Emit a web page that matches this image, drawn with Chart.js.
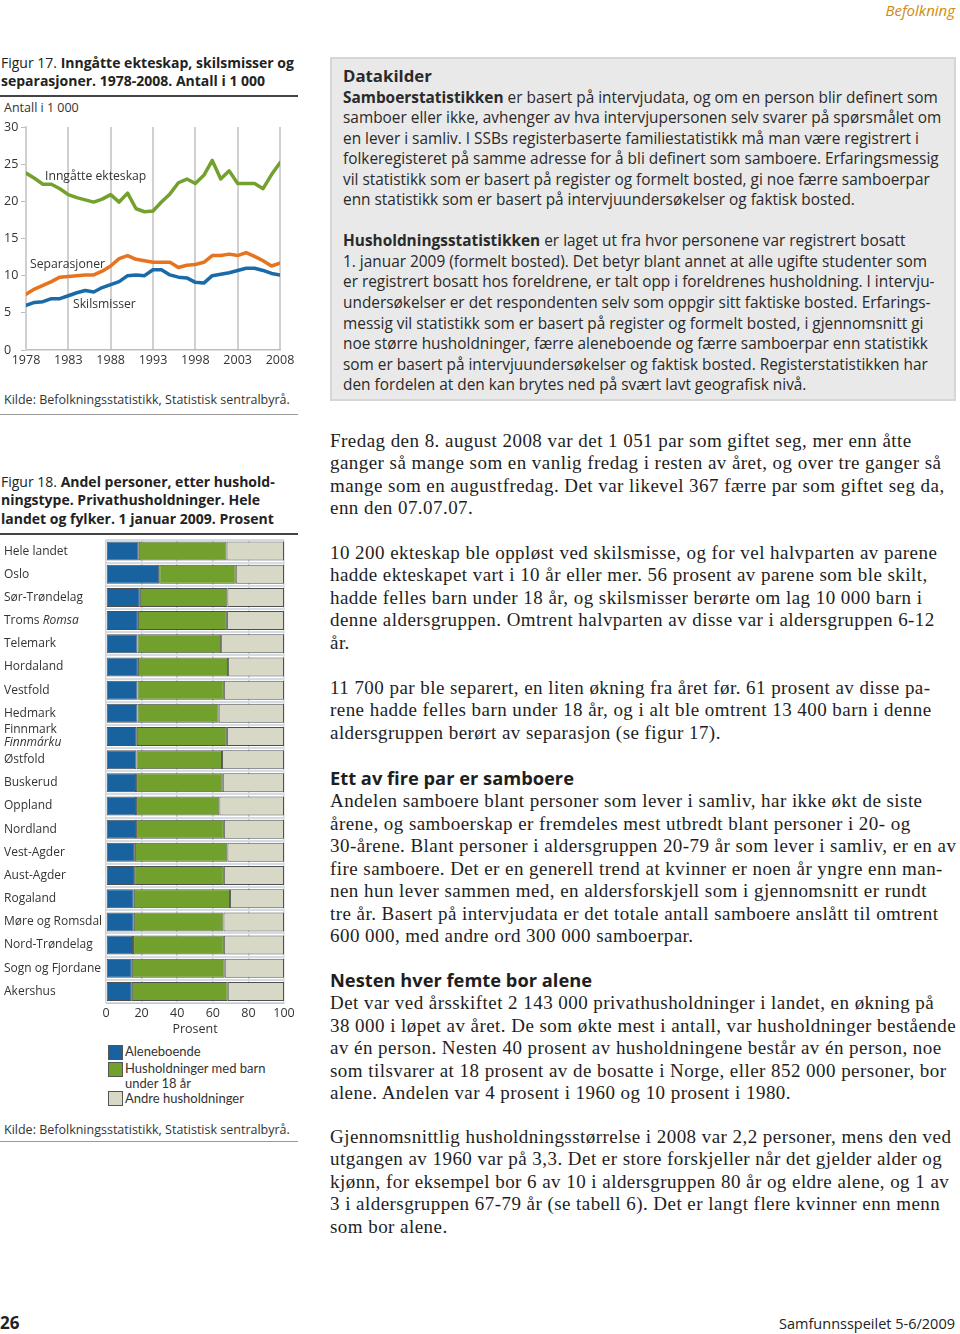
<!DOCTYPE html>
<html>
<head>
<meta charset="utf-8">
<script src="https://cdn.jsdelivr.net/npm/chart.js@4"></script>
<style>
  body { margin:0; width:960px; height:1334px; background:#fff; position:relative; overflow:hidden;
         font-family:"Open Sans", "Noto Sans", sans-serif; color:#222; }
  .abs { position:absolute; white-space:nowrap; }
  .rule { position:absolute; left:0; width:298px; background:#444; }
  .cap { font-size:14px; line-height:18.3px; color:#222; }
  .small { font-size:12.5px; color:#333; }
  .note { font-size:12.2px; color:#333; }
  .box { position:absolute; left:330px; top:57px; width:622px; height:340px; background:#e9e9e9;
         border:2px solid #d6d6d6; }
  .boxtext { position:absolute; left:11px; top:7px; font-size:15.4px; line-height:20.55px; color:#2a2a2a; white-space:nowrap; }
  .serif { font-family:"Liberation Serif", "DejaVu Serif", serif; font-size:19px; letter-spacing:0.45px; line-height:22.45px; color:#1e1e1e; }
  .head { font-family:"Open Sans", sans-serif; font-weight:700; font-size:18.3px; letter-spacing:0; }
  .legtxt { position:absolute; left:125px; font-family:Lato, "Open Sans", sans-serif; font-size:13px; color:#333; line-height:14.8px; white-space:nowrap; }
  .legbox { position:absolute; left:108px; width:13px; height:13px; border:1px solid #555; }
</style>
</head>
<body>

<div class="abs" style="right:5px; top:0px; font-size:15px; font-style:italic; color:#d08a10;">Befolkning</div>

<!-- Figur 17 -->
<div class="abs cap" style="left:1px; top:54px;">Figur 17. <b>Inngåtte ekteskap, skilsmisser og<br>separasjoner. 1978-2008. Antall i 1 000</b></div>
<div class="rule" style="top:95px; height:1.5px;"></div>
<div class="abs small" style="left:4px; top:99px;">Antall i 1 000</div>
<div style="position:absolute; left:0; top:115px; width:300px; height:257px;"><canvas id="lineChart"></canvas></div>
<div class="abs note" style="left:45px; top:167px;">Inngåtte ekteskap</div>
<div class="abs note" style="left:30px; top:255px;">Separasjoner</div>
<div class="abs note" style="left:73px; top:295px;">Skilsmisser</div>
<div class="abs small" style="left:4px; top:391px;">Kilde: Befolkningsstatistikk, Statistisk sentralbyrå.</div>
<div class="rule" style="top:414px; height:1px; background:#999;"></div>

<!-- Figur 18 -->
<div class="abs cap" style="left:1px; top:473px;">Figur 18. <b>Andel personer, etter hushold-<br>ningstype. Privathusholdninger. Hele<br>landet og fylker. 1 januar 2009. Prosent</b></div>
<div class="rule" style="top:533px; height:1.5px;"></div>
<div style="position:absolute; left:0; top:535px; width:300px; height:505px;"><canvas id="barChart"></canvas></div>
<div class="legbox" style="top:1045px; background:#17629f;"></div>
<div class="legtxt" style="top:1044px;">Aleneboende</div>
<div class="legbox" style="top:1062px; background:#71a02c;"></div>
<div class="legtxt" style="top:1061px;">Husholdninger med barn<br>under 18 år</div>
<div class="legbox" style="top:1091px; background:#d7d8c6;"></div>
<div class="legtxt" style="top:1091px;">Andre husholdninger</div>
<div class="abs small" style="left:4px; top:1121px;">Kilde: Befolkningsstatistikk, Statistisk sentralbyrå.</div>
<div class="rule" style="top:1141px; height:1px; background:#999;"></div>

<!-- Datakilder box -->
<div class="box"><div class="boxtext"><b style="font-size:16.8px;">Datakilder</b><br><b>Samboerstatistikken</b> er basert på intervjudata, og om en person blir definert som<br>samboer eller ikke, avhenger av hva intervjupersonen selv svarer på spørsmålet om<br>en lever i samliv. I SSBs registerbaserte familiestatistikk må man være registrert i<br>folkeregisteret på samme adresse for å bli definert som samboere. Erfaringsmessig<br>vil statistikk som er basert på register og formelt bosted, gi noe færre samboerpar<br>enn statistikk som er basert på intervjuundersøkelser og faktisk bosted.<br><br><b>Husholdningsstatistikken</b> er laget ut fra hvor personene var registrert bosatt<br>1. januar 2009 (formelt bosted). Det betyr blant annet at alle ugifte studenter som<br>er registrert bosatt hos foreldrene, er talt opp i foreldrenes husholdning. I intervju-<br>undersøkelser er det respondenten selv som oppgir sitt faktiske bosted. Erfarings-<br>messig vil statistikk som er basert på register og formelt bosted, i gjennomsnitt gi<br>noe større husholdninger, færre aleneboende og færre samboerpar enn statistikk<br>som er basert på intervjuundersøkelser og faktisk bosted. Registerstatistikken har<br>den fordelen at den kan brytes ned på svært lavt geografisk nivå.</div></div>

<!-- body text -->
<div class="abs serif" style="left:330px; top:430px;">Fredag den 8. august 2008 var det 1 051 par som giftet seg, mer enn åtte<br>ganger så mange som en vanlig fredag i resten av året, og over tre ganger så<br>mange som en augustfredag. Det var likevel 367 færre par som giftet seg da,<br>enn den 07.07.07.</div>
<div class="abs serif" style="left:330px; top:542px;">10 200 ekteskap ble oppløst ved skilsmisse, og for vel halvparten av parene<br>hadde ekteskapet vart i 10 år eller mer. 56 prosent av parene som ble skilt,<br>hadde felles barn under 18 år, og skilsmisser berørte om lag 10 000 barn i<br>denne aldersgruppen. Omtrent halvparten av disse var i aldersgruppen 6-12<br>år.</div>
<div class="abs serif" style="left:330px; top:677px;">11 700 par ble separert, en liten økning fra året før. 61 prosent av disse pa-<br>rene hadde felles barn under 18 år, og i alt ble omtrent 13 400 barn i denne<br>aldersgruppen berørt av separasjon (se figur 17).</div>
<div class="abs serif" style="left:330px; top:767px;"><span class="head">Ett av fire par er samboere</span><br>Andelen samboere blant personer som lever i samliv, har ikke økt de siste<br>årene, og samboerskap er fremdeles mest utbredt blant personer i 20- og<br>30-årene. Blant personer i aldersgruppen 20-79 år som lever i samliv, er en av<br>fire samboere. Det er en generell trend at kvinner er noen år yngre enn man-<br>nen hun lever sammen med, en aldersforskjell som i gjennomsnitt er rundt<br>tre år. Basert på intervjudata er det totale antall samboere anslått til omtrent<br>600 000, med andre ord 300 000 samboerpar.</div>
<div class="abs serif" style="left:330px; top:969px;"><span class="head">Nesten hver femte bor alene</span><br>Det var ved årsskiftet 2 143 000 privathusholdninger i landet, en økning på<br>38 000 i løpet av året. De som økte mest i antall, var husholdninger bestående<br>av én person. Nesten 40 prosent av husholdningene består av én person, noe<br>som tilsvarer at 18 prosent av de bosatte i Norge, eller 852 000 personer, bor<br>alene. Andelen var 4 prosent i 1960 og 10 prosent i 1980.</div>
<div class="abs serif" style="left:330px; top:1126px;">Gjennomsnittlig husholdningsstørrelse i 2008 var 2,2 personer, mens den ved<br>utgangen av 1960 var på 3,3. Det er store forskjeller når det gjelder alder og<br>kjønn, for eksempel bor 6 av 10 i aldersgruppen 80 år og eldre alene, og 1 av<br>3 i aldersgruppen 67-79 år (se tabell 6). Det er langt flere kvinner enn menn<br>som bor alene.</div>

<div class="abs" style="left:0px; top:1311px; font-size:17px; font-weight:700;">26</div>
<div class="abs" style="right:5px; top:1314px; font-size:14.5px; color:#222;">Samfunnsspeilet 5-6/2009</div>

<script>
// Figur 17 – antall i 1 000
var years = [1978,1979,1980,1981,1982,1983,1984,1985,1986,1987,1988,1989,1990,1991,1992,1993,
             1994,1995,1996,1997,1998,1999,2000,2001,2002,2003,2004,2005,2006,2007,2008];
var ekteskap = [23.8,23.1,22.3,22.3,21.7,20.9,20.5,20.2,19.9,20.3,20.9,19.9,21.1,19.0,18.6,18.7,
                19.9,21.0,22.5,23.0,22.4,23.5,25.5,23.0,24.1,22.4,22.4,22.4,21.7,23.6,25.2];
var separasjoner = [7.5,8.2,8.7,9.2,9.8,9.9,10.0,10.1,10.1,10.6,11.3,12.3,12.7,12.2,12.0,11.8,
                    11.8,11.8,11.1,11.4,11.5,11.8,12.7,12.7,12.9,12.7,13.1,12.6,12.0,11.3,11.7];
var skilsmisser = [6.0,6.4,6.5,6.9,6.9,7.3,7.7,8.0,7.8,8.4,8.8,9.2,10.0,10.1,10.0,10.8,
                   10.8,10.1,9.8,9.7,9.1,9.0,10.0,10.2,10.4,10.7,11.0,11.0,10.7,10.3,10.1];

// Figur 18 – prosent
var fylker = ["Hele landet","Oslo","Sør-Trøndelag","Troms Romsa","Telemark","Hordaland","Vestfold",
              "Hedmark","Finnmark Finnmárku","Østfold","Buskerud","Oppland","Nordland","Vest-Agder",
              "Aust-Agder","Rogaland","Møre og Romsdal","Nord-Trøndelag","Sogn og Fjordane","Akershus"];
var aleneboende = [18.4,29.9,19.0,17.9,17.7,17.9,17.7,17.7,17.3,17.1,16.9,16.9,16.9,16.2,15.8,15.6,15.6,15.2,14.5,14.5];
var medBarn = [49.3,43.0,49.2,50.0,47.0,50.7,48.5,45.6,50.6,48.1,48.7,46.8,49.3,52.0,50.4,54.1,50.4,51.0,52.2,53.9];
var andre = aleneboende.map((a,i)=>Math.round((100-a-medBarn[i])*10)/10);

var tickFont = {family:"'Open Sans', sans-serif", size:12.5};
Chart.defaults.color = "#333";
Chart.defaults.animation = false;

function pts(arr){ return arr.map((v,i)=>({x:years[i], y:v})); }

new Chart(document.getElementById('lineChart'), {
  type:'line',
  data:{ datasets:[
    {label:"Inngåtte ekteskap", data:pts(ekteskap), borderColor:"#74a12e", borderWidth:3.5},
    {label:"Separasjoner", data:pts(separasjoner), borderColor:"#e8731f", borderWidth:3.5},
    {label:"Skilsmisser", data:pts(skilsmisser), borderColor:"#1a6aa8", borderWidth:3.5}
  ]},
  options:{
    responsive:true, maintainAspectRatio:false,
    layout:{padding:{left:4, top:12, right:20, bottom:0}},
    elements:{point:{radius:0}, line:{tension:0, borderJoinStyle:'round', borderCapStyle:'round'}},
    plugins:{legend:{display:false}, tooltip:{enabled:false}},
    scales:{
      x:{type:'linear', min:1978, max:2008,
         ticks:{stepSize:5, font:tickFont, padding:3, maxRotation:0, callback:v=>String(v)},
         grid:{color:"#d0d0d0", lineWidth:2, drawTicks:false},
         border:{color:"#bdbdbd", width:1.5},
         afterFit:s=>{s.height=22;}},
      y:{min:0, max:30,
         ticks:{stepSize:5, font:tickFont, crossAlign:'far', padding:2},
         grid:{drawOnChartArea:false, drawTicks:true, tickLength:5, color:"#bdbdbd"},
         border:{color:"#d0d0d0", width:2},
         afterFit:s=>{s.width=22;}}
    }
  }
});

// region names with italic Sami names, drawn at the category scale positions
var labelPlugin = {
  id:'fylkeLabels',
  afterDraw(chart){
    var ctx = chart.ctx, y = chart.scales.y;
    ctx.save();
    ctx.fillStyle = "#333";
    ctx.textBaseline = "middle";
    ctx.textAlign = "left";
    var plain = "12px 'Open Sans', sans-serif", ital = "italic 12px 'Open Sans', sans-serif";
    fylker.forEach((name,i)=>{
      var py = y.getPixelForValue(i);
      if (name === "Troms Romsa") {
        ctx.font = plain; ctx.fillText("Troms ", 4, py);
        var w = ctx.measureText("Troms ").width;
        ctx.font = ital; ctx.fillText("Romsa", 4 + w, py);
      } else if (name === "Finnmark Finnmárku") {
        ctx.font = plain; ctx.fillText("Finnmark", 4, py - 6.5);
        ctx.font = ital; ctx.fillText("Finnmárku", 4, py + 6.5);
      } else {
        ctx.font = plain; ctx.fillText(name, 4, py);
      }
    });
    ctx.restore();
  }
};

new Chart(document.getElementById('barChart'), {
  type:'bar',
  data:{ labels:fylker, datasets:[
    {label:"Aleneboende", data:aleneboende, backgroundColor:"#17629f"},
    {label:"Husholdninger med barn under 18 år", data:medBarn, backgroundColor:"#71a02c"},
    {label:"Andre husholdninger", data:andre, backgroundColor:"#d7d8c6"}
  ]},
  options:{
    indexAxis:'y', responsive:true, maintainAspectRatio:false,
    layout:{padding:{left:106, top:4.5, right:16, bottom:1}},
    datasets:{bar:{barPercentage:0.82, categoryPercentage:1, borderColor:"#4f4f4f", borderWidth:1, borderSkipped:false}},
    plugins:{legend:{display:false}, tooltip:{enabled:false}},
    scales:{
      x:{stacked:true, min:0, max:100,
         ticks:{stepSize:20, font:tickFont, padding:3, maxRotation:0},
         grid:{color:"#d3d3d3", lineWidth:1.5, drawTicks:false},
         border:{color:"#c8c8c8"},
         title:{display:true, text:"Prosent", font:tickFont, padding:{top:0, bottom:2}},
         afterFit:s=>{s.height=36;}},
      y:{stacked:true,
         ticks:{display:false},
         grid:{offset:true, color:"#d5dbe2", lineWidth:2, drawTicks:false},
         border:{display:false},
         afterFit:s=>{s.width=0;}}
    }
  },
  plugins:[labelPlugin]
});
</script>
</body>
</html>
